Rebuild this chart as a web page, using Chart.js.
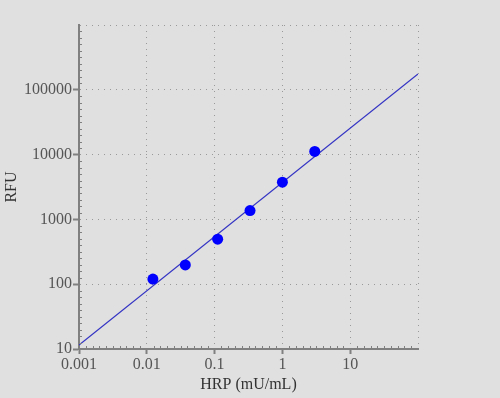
<!DOCTYPE html>
<html>
<head>
<meta charset="utf-8">
<script src="https://cdn.jsdelivr.net/npm/chart.js@4/dist/chart.umd.min.js"></script>
<style>
  html, body { margin: 0; padding: 0; background: #e0e0e0; }
  #wrap { width: 500px; height: 398px; }
</style>
</head>
<body>
<div id="wrap"><canvas id="chart" width="500" height="398"></canvas></div>
<script>
// Standard curve data
const hrpConc = [0.0123, 0.037, 0.111, 0.333, 1, 3];
const rfuValues = [120, 198, 495, 1370, 3750, 11200];

// Fitted line end points
const fitX = [0.001, 100];
const fitY = [11.5, 176000];

// Decade ticks
const xTicks = [0.001, 0.01, 0.1, 1, 10, 100];
const yTicks = [10, 100, 1000, 10000, 100000, 1000000];
const xLabels = ['0.001', '0.01', '0.1', '1', '10', ''];
const yLabels = ['10', '100', '1000', '10000', '100000', ''];

const AXIS_GRAY = '#808080';
const FONT = "'Liberation Serif', 'Times New Roman', serif";

// Paints the page background and the small minor ticks along both axes
const minorTicks = {
  id: 'minorTicks',
  beforeDraw(chart) {
    const ctx = chart.ctx;
    ctx.save();
    ctx.fillStyle = '#e0e0e0';
    ctx.fillRect(0, 0, chart.width, chart.height);
    ctx.restore();
  },
  afterDraw(chart) {
    const ctx = chart.ctx;
    const xs = chart.scales.x;
    const ys = chart.scales.y;
    ctx.save();
    ctx.strokeStyle = AXIS_GRAY;
    ctx.lineWidth = 1;
    ctx.beginPath();
    for (let n = -3; n < 2; n++) {
      for (let k = 1; k < 10; k++) {
        const px = Math.round(xs.getPixelForValue(Math.pow(10, n + k / 10))) + 0.5;
        ctx.moveTo(px, ys.bottom - 3);
        ctx.lineTo(px, ys.bottom);
      }
    }
    for (let n = 1; n < 6; n++) {
      for (let k = 1; k < 10; k++) {
        const py = Math.round(ys.getPixelForValue(Math.pow(10, n + k / 10))) + 0.5;
        ctx.moveTo(xs.left, py);
        ctx.lineTo(xs.left + 3, py);
      }
    }
    ctx.stroke();
    ctx.restore();
  }
};

// no outer tick mark on the last (unlabelled) decade
const tickColorFor = (c) => (c.index === 5 ? 'rgba(0,0,0,0)' : AXIS_GRAY);

new Chart(document.getElementById('chart'), {
  type: 'scatter',
  data: {
    datasets: [
      {
        label: 'Fit',
        type: 'line',
        data: fitX.map((x, i) => ({ x: x, y: fitY[i] })),
        borderColor: '#3333c4',
        borderWidth: 1.2,
        pointRadius: 0,
        fill: false,
        tension: 0,
        order: 2
      },
      {
        label: 'HRP',
        data: hrpConc.map((x, i) => ({ x: x, y: rfuValues[i] })),
        backgroundColor: '#0000ff',
        borderColor: '#0000ff',
        pointRadius: 5.5,
        borderWidth: 0,
        order: 1
      }
    ]
  },
  options: {
    responsive: false,
    animation: false,
    layout: { padding: { top: 25, right: 82, left: 0, bottom: 0 } },
    plugins: {
      legend: { display: false },
      tooltip: { enabled: false }
    },
    scales: {
      x: {
        type: 'logarithmic',
        min: 0.001,
        max: 100,
        afterBuildTicks: (scale) => { scale.ticks = xTicks.map(v => ({ value: v })); },
        afterFit: (scale) => { scale.height = 49; },
        ticks: {
          autoSkip: false,
          maxRotation: 0,
          padding: 1,
          color: '#555555',
          font: { family: FONT, size: 16 },
          callback: (value, index) => xLabels[index]
        },
        grid: {
          color: '#999999',
          lineWidth: 1,
          tickLength: 5,
          tickColor: tickColorFor,
          tickWidth: 2
        },
        border: { display: true, color: AXIS_GRAY, width: 2, dash: [1, 5] },
        title: {
          display: true,
          text: 'HRP (mU/mL)',
          color: '#333333',
          font: { family: FONT, size: 16 },
          padding: { top: 2, bottom: 4 }
        }
      },
      y: {
        type: 'logarithmic',
        min: 10,
        max: 1000000,
        afterBuildTicks: (scale) => { scale.ticks = yTicks.map(v => ({ value: v })); },
        afterFit: (scale) => { scale.width = 79; },
        ticks: {
          autoSkip: false,
          padding: 1,
          color: '#555555',
          font: { family: FONT, size: 16 },
          callback: (value, index) => yLabels[index]
        },
        grid: {
          color: '#999999',
          lineWidth: 1,
          tickLength: 6,
          tickColor: tickColorFor,
          tickWidth: 2
        },
        border: { display: true, color: AXIS_GRAY, width: 2, dash: [1, 5] },
        title: {
          display: true,
          text: 'RFU',
          color: '#333333',
          font: { family: FONT, size: 16 },
          padding: { top: 2, bottom: 2 }
        }
      }
    }
  },
  plugins: [minorTicks]
});
</script>
</body>
</html>
